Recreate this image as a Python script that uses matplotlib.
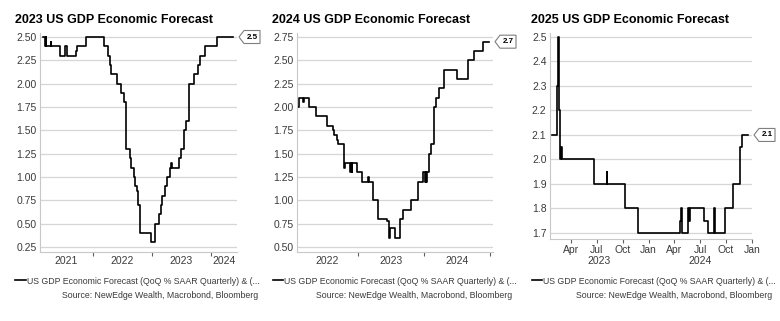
import pandas as pd
import matplotlib
matplotlib.use("Agg")
import matplotlib.pyplot as plt
import matplotlib.dates as mdates
import matplotlib.transforms as mtransforms
from matplotlib.patches import Polygon

plt.rcParams['font.family'] = ['Liberation Sans', 'DejaVu Sans']

# forecast revisions (change points, value holds until next date)
gdp23_dates = ['2021-02-24', '2021-03-12', '2021-03-16', '2021-03-19', '2021-04-14',
               '2021-04-17', '2021-06-11', '2021-07-12', '2021-07-24', '2021-09-16',
               '2021-09-27', '2021-11-17', '2022-03-10', '2022-04-01', '2022-04-16',
               '2022-04-22', '2022-05-28', '2022-06-23', '2022-07-14', '2022-07-22',
               '2022-08-16', '2022-08-22', '2022-09-12', '2022-09-18', '2022-10-02',
               '2022-10-07', '2022-10-19', '2022-12-24', '2023-01-20', '2023-02-13',
               '2023-02-25', '2023-03-06', '2023-03-22', '2023-04-02', '2023-04-22',
               '2023-04-29', '2023-05-04', '2023-06-17', '2023-06-29', '2023-07-20',
               '2023-07-29', '2023-08-20', '2023-09-20', '2023-10-15', '2023-10-25',
               '2023-11-25', '2024-02-05', '2024-05-18']
gdp23_vals = [2.5, 2.4, 2.5, 2.4, 2.45,
              2.4, 2.3, 2.4, 2.3, 2.35,
              2.4, 2.5, 2.4, 2.3, 2.2,
              2.1, 2.0, 1.9, 1.8, 1.3,
              1.2, 1.1, 1.0, 0.9, 0.85,
              0.7, 0.4, 0.3, 0.5, 0.6,
              0.7, 0.8, 0.9, 1.0, 1.1,
              1.15, 1.1, 1.2, 1.3, 1.5,
              1.6, 2.0, 2.1, 2.2, 2.3,
              2.4, 2.5, 2.5]

gdp24_dates = ['2022-02-05', '2022-02-10', '2022-03-01', '2022-03-05', '2022-04-05',
               '2022-05-14', '2022-07-11', '2022-08-13', '2022-08-21', '2022-09-08',
               '2022-09-13', '2022-10-15', '2022-10-20', '2022-11-17', '2022-11-22',
               '2022-11-27', '2022-12-01', '2022-12-25', '2023-01-25', '2023-02-27',
               '2023-03-02', '2023-03-27', '2023-04-23', '2023-06-09', '2023-06-20',
               '2023-06-23', '2023-06-26', '2023-07-25', '2023-08-21', '2023-09-05',
               '2023-10-19', '2023-11-30', '2023-12-28', '2024-01-06', '2024-01-12',
               '2024-01-14', '2024-01-17', '2024-01-31', '2024-02-09', '2024-02-25',
               '2024-03-06', '2024-03-26', '2024-04-22', '2024-06-30', '2024-08-30',
               '2024-10-06', '2024-11-25', '2024-12-28']
gdp24_vals = [2.0, 2.1, 2.05, 2.1, 2.0,
              1.9, 1.8, 1.75, 1.7, 1.65,
              1.6, 1.35, 1.4, 1.3, 1.4,
              1.3, 1.4, 1.3, 1.2, 1.25,
              1.2, 1.0, 0.8, 0.78, 0.7,
              0.6, 0.7, 0.6, 0.8, 0.9,
              1.0, 1.2, 1.3, 1.2, 1.3,
              1.2, 1.3, 1.5, 1.6, 2.0,
              2.1, 2.2, 2.4, 2.3, 2.5,
              2.6, 2.7, 2.7]

gdp25_dates = ['2023-01-24', '2023-02-11', '2023-02-15', '2023-02-18', '2023-02-22',
               '2023-02-25', '2023-03-01', '2023-06-21', '2023-08-05', '2023-08-08',
               '2023-10-11', '2023-11-26', '2024-04-22', '2024-04-25', '2024-04-28',
               '2024-05-19', '2024-05-22', '2024-05-25', '2024-07-15', '2024-07-29',
               '2024-08-19', '2024-08-23', '2024-09-28', '2024-10-26', '2024-11-21',
               '2024-11-28', '2024-12-17']
gdp25_vals = [2.1, 2.3, 2.5, 2.2, 2.0,
              2.05, 2.0, 1.9, 1.95, 1.9,
              1.8, 1.7, 1.75, 1.8, 1.7,
              1.8, 1.75, 1.8, 1.75, 1.7,
              1.8, 1.7, 1.8, 1.9, 2.05,
              2.1, 2.1]

titles = ['2023 US GDP Economic Forecast', '2024 US GDP Economic Forecast',
          '2025 US GDP Economic Forecast']
last_labels = ['2.5', '2.7', '2.1']
legend_label = 'US GDP Economic Forecast (QoQ % SAAR Quarterly) & (...'
source_text = 'Source: NewEdge Wealth, Macrobond, Bloomberg'

W, H = 780, 321
fig = plt.figure(figsize=(W / 100, H / 100), dpi=100)


def rect(x0, x1, ytop, ybot):
    return [x0 / W, 1 - ybot / H, (x1 - x0) / W, (ybot - ytop) / H]


panels = [
    dict(dates=gdp23_dates, vals=gdp23_vals, rect=rect(40, 237, 33, 252),
         xlim=('2021-02-07', '2024-06-10'), ylim=(0.196, 2.543),
         yticks=[0.25 * i for i in range(1, 11)], yfmt='%.2f',
         title_x=15, src_x=258),
    dict(dates=gdp24_dates, vals=gdp24_vals, rect=rect(297, 493, 33, 252),
         xlim=('2022-01-28', '2025-01-17'), ylim=(0.446, 2.793),
         yticks=[0.25 * i for i in range(2, 12)], yfmt='%.2f',
         title_x=272, src_x=512),
    dict(dates=gdp25_dates, vals=gdp25_vals, rect=rect(550, 752, 33, 239),
         xlim=('2023-01-17', '2025-01-01'), ylim=(1.6755, 2.516),
         yticks=[1.7 + 0.1 * i for i in range(9)], yfmt='%.1f',
         title_x=531, src_x=772),
]

grey_txt = '#3a3a3a'

for i, p in enumerate(panels):
    ax = fig.add_axes(p['rect'])
    d = pd.to_datetime(p['dates'])
    ax.plot(d, p['vals'], color='black', lw=1.2, drawstyle='steps-post',
            label=legend_label)

    x0, x1 = pd.to_datetime(p['xlim'][0]), pd.to_datetime(p['xlim'][1])
    ax.set_xlim(x0, x1)
    ax.set_ylim(*p['ylim'])
    ax.set_yticks(p['yticks'])
    ax.set_yticklabels([p['yfmt'] % v for v in p['yticks']])
    ax.grid(axis='y', color='#d6d6d6', lw=0.9)
    ax.set_axisbelow(True)
    ax.tick_params(axis='y', length=0, pad=2.5, labelsize=7.5, labelcolor=grey_txt)

    for s in ['top', 'right']:
        ax.spines[s].set_visible(False)
    for s in ['left', 'bottom']:
        ax.spines[s].set_color('#c8c8c8')
        ax.spines[s].set_linewidth(0.8)

    # year labels centred on the visible part of each year
    centers, names = [], []
    for yr in range(x0.year, x1.year + 1):
        a = max(x0, pd.Timestamp(yr, 1, 1))
        b = min(x1, pd.Timestamp(yr + 1, 1, 1))
        if (b - a).days > 90:
            centers.append(a + (b - a) / 2)
            names.append(str(yr))

    if i < 2:
        bounds = [pd.Timestamp(yr, 1, 1) for yr in range(x0.year + 1, x1.year + 1)]
        ax.set_xticks(bounds)
        ax.set_xticklabels([''] * len(bounds))
        ax.tick_params(axis='x', which='major', length=3, width=0.8, color='#606060')
        ax.set_xticks(centers, minor=True)
        ax.set_xticklabels(names, minor=True)
        ax.tick_params(axis='x', which='minor', length=0, pad=3,
                       labelsize=7.5, labelcolor=grey_txt)
    else:
        ax.xaxis.set_major_locator(mdates.MonthLocator(bymonth=[1, 4, 7, 10]))
        ax.xaxis.set_major_formatter(mdates.DateFormatter('%b'))
        ax.tick_params(axis='x', which='major', length=3, width=0.8, color='#606060',
                       pad=1.5, labelsize=7.5, labelcolor=grey_txt)
        ax.set_xticks(centers, minor=True)
        ax.set_xticklabels(names, minor=True)
        ax.tick_params(axis='x', which='minor', length=0, pad=12.5,
                       labelsize=7.5, labelcolor=grey_txt)

    # value tag at the right edge
    last = p['vals'][-1]
    tag_tr = fig.dpi_scale_trans + mtransforms.ScaledTranslation(
        1, last, ax.get_yaxis_transform())
    hh = 0.065
    verts = [(0.02, 0), (0.07, hh), (0.23, hh), (0.23, -hh), (0.07, -hh)]
    ax.add_patch(Polygon(verts, closed=True, transform=tag_tr, clip_on=False,
                         facecolor='white', edgecolor='#7f7f7f', lw=0.8))
    ax.annotate(last_labels[i], xy=(1, last), xycoords=ax.get_yaxis_transform(),
                xytext=(10.8, 0), textcoords='offset points', ha='center',
                va='center', fontsize=5.8, fontweight='bold', annotation_clip=False)

    fig.text(p['title_x'] / W, 1 - 20 / H, titles[i], fontsize=9.0,
             fontweight='bold', ha='left', va='center')
    ax.legend(loc='center left', bbox_to_anchor=((p['title_x'] + 0.5) / W, 1 - 281 / H),
              bbox_transform=fig.transFigure, frameon=False, borderpad=0,
              borderaxespad=0, handlelength=1.2, handletextpad=0.15,
              prop={'size': 6.3}, labelcolor=grey_txt)
    fig.text(p['src_x'] / W, 1 - 296 / H, source_text, fontsize=6.3,
             color=grey_txt, ha='right', va='center')

fig.savefig('out.png', dpi=100)
